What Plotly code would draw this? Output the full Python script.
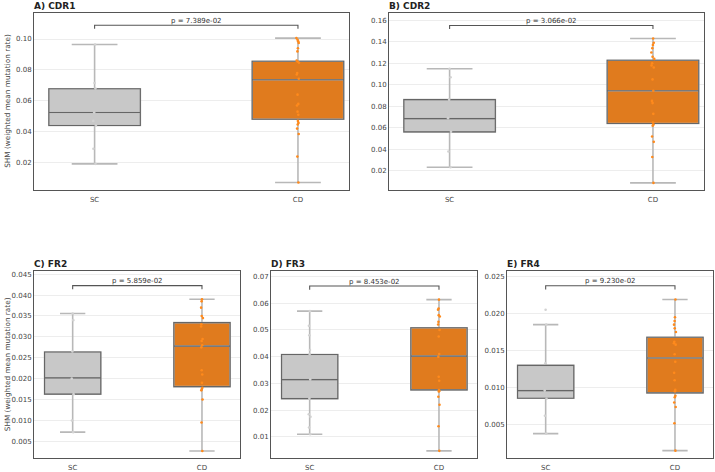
import plotly.graph_objects as go

groups = ["SC", "CD"]
panels = ["A) CDR1", "B) CDR2", "C) FR2", "D) FR3", "E) FR4"]
p_values = ["7.389e-02", "3.066e-02", "5.859e-02", "8.453e-02", "9.230e-02"]
y_label = "SHM (weighted mean mutation rate)"

# box statistics per panel: [SC, CD]
lower_whisker = [[0.0192, 0.0071], [0.0234, 0.0089], [0.0072, 0.0027], [0.0110, 0.0048], [0.0038, 0.0015]]
q1 = [[0.0440, 0.0481], [0.0563, 0.0640], [0.0163, 0.0181], [0.0243, 0.0276], [0.00857, 0.0093]]
median = [[0.0524, 0.0736], [0.0686, 0.0945], [0.0202, 0.0278], [0.0314, 0.0402], [0.0096, 0.0140]]
q3 = [[0.0678, 0.0856], [0.0862, 0.1227], [0.0264, 0.0334], [0.0408, 0.0508], [0.0130, 0.0168]]
upper_whisker = [[0.0965, 0.1006], [0.1148, 0.1430], [0.0356, 0.0390], [0.0570, 0.0613], [0.0185, 0.0219]]

# individual samples per panel
sc_points = [
    [0.0192, 0.0290, 0.0440, 0.0470, 0.0524, 0.0680, 0.0715, 0.0965],
    [0.0234, 0.0380, 0.0563, 0.0690, 0.0862, 0.1070, 0.1148],
    [0.0072, 0.0100, 0.0163, 0.0200, 0.0265, 0.0340, 0.0356],
    [0.0110, 0.0135, 0.0175, 0.0185, 0.0243, 0.0315, 0.0410, 0.0425, 0.0480, 0.0515, 0.0570],
    [0.0038, 0.0062, 0.0085, 0.0096, 0.0133, 0.0185, 0.0205],
]
cd_points = [
    [0.1006, 0.0995, 0.0985, 0.0975, 0.0940, 0.0920, 0.0860, 0.0854, 0.0846, 0.0780, 0.0770,
     0.0743, 0.0640, 0.0580, 0.0570, 0.0530, 0.0510, 0.0470, 0.0457, 0.0447, 0.0420, 0.0385,
     0.0239, 0.0071],
    [0.1430, 0.1390, 0.1370, 0.1340, 0.1300, 0.1260, 0.1240, 0.1200, 0.1180, 0.1160, 0.1050,
     0.0945, 0.0850, 0.0830, 0.0730, 0.0650, 0.0630, 0.0620, 0.0520, 0.0470, 0.0330, 0.0089],
    [0.0390, 0.0385, 0.0370, 0.0350, 0.0345, 0.0330, 0.0325, 0.0295, 0.0290, 0.0280, 0.0275,
     0.0220, 0.0210, 0.0190, 0.0178, 0.0175, 0.0172, 0.0150, 0.0095, 0.0027],
    [0.0613, 0.0580, 0.0575, 0.0555, 0.0550, 0.0530, 0.0520, 0.0500, 0.0475, 0.0410, 0.0400,
     0.0325, 0.0310, 0.0275, 0.0272, 0.0270, 0.0250, 0.0220, 0.0140, 0.0048],
    [0.0219, 0.0195, 0.0190, 0.0185, 0.0180, 0.0175, 0.0162, 0.0160, 0.0158, 0.0145, 0.0135,
     0.0120, 0.0110, 0.0097, 0.0095, 0.0089, 0.0087, 0.0080, 0.0074, 0.0052, 0.0015],
]

y_ranges = [[0.0024, 0.1169], [0.0025, 0.1667], [0.0010, 0.0457], [0.0021, 0.0719], [0.0005, 0.0257]]
y_dticks = [0.02, 0.02, 0.005, 0.01, 0.005]
y_formats = [".2f", ".2f", ".3f", ".2f", ".3f"]

W, H = 715, 472
x_px = [(34, 349), (389, 704), (34, 240), (271, 477), (507, 713)]
y_px = [(12, 190), (12, 190), (272, 460), (272, 460), (272, 460)]
x_ranges = [[-0.298, 1.251], [-0.298, 1.251], [-0.299, 1.294], [-0.299, 1.294], [-0.299, 1.294]]
box_widths = [0.45, 0.45, 0.435, 0.435, 0.435]
whisker_w = [0.5, 0.5, 0.45, 0.45, 0.45]

fills = ["#c8c8c8", "#e07b1e"]
point_colors = ["#d2d2d2", "#ff8a1c"]
edge = "#666666"
whisk = "#b8b8b8"
font = "DejaVu Sans"

fig = go.Figure()
layout = dict(
    width=W, height=H, margin=dict(l=0, r=0, t=0, b=0),
    paper_bgcolor="white", plot_bgcolor="white", showlegend=False,
    boxmode="overlay", font=dict(family=font, size=7, color="#444"),
)
annotations = []

for i in range(5):
    s = "" if i == 0 else str(i + 1)
    xa, ya = "x" + s, "y" + s
    for g in range(2):
        # full box with light whiskers
        fig.add_trace(go.Box(
            x=[groups[g]], q1=[q1[i][g]], median=[median[i][g]], q3=[q3[i][g]],
            lowerfence=[lower_whisker[i][g]], upperfence=[upper_whisker[i][g]],
            fillcolor=fills[g], line=dict(color=whisk, width=1.6),
            width=box_widths[i], whiskerwidth=whisker_w[i], boxpoints=False,
            hoverinfo="skip", xaxis=xa, yaxis=ya,
        ))
        # dark outline of the box + median
        fig.add_trace(go.Box(
            x=[groups[g]], q1=[q1[i][g]], median=[median[i][g]], q3=[q3[i][g]],
            lowerfence=[q1[i][g]], upperfence=[q3[i][g]],
            fillcolor="rgba(0,0,0,0)", line=dict(color=edge, width=1.1),
            width=box_widths[i], whiskerwidth=0, boxpoints=False,
            hoverinfo="skip", xaxis=xa, yaxis=ya,
        ))
    for g, pts in enumerate([sc_points[i], cd_points[i]]):
        fig.add_trace(go.Box(
            x=[groups[g]] * len(pts), y=pts, boxpoints="all", jitter=0.04, pointpos=0,
            fillcolor="rgba(0,0,0,0)", line=dict(color="rgba(0,0,0,0)", width=0),
            marker=dict(size=2.6, color=point_colors[g]),
            width=box_widths[i], whiskerwidth=0, hoverinfo="skip",
            xaxis=xa, yaxis=ya,
        ))
    # significance bracket
    r0, r1 = y_ranges[i]
    h = max(upper_whisker[i]) + 0.073 * (r1 - r0)
    d = 0.02 * (r1 - r0)
    fig.add_trace(go.Scatter(
        x=[groups[0], groups[0], groups[1], groups[1]], y=[h - d, h, h, h - d],
        mode="lines", line=dict(color="#555", width=1.1), hoverinfo="skip",
        xaxis=xa, yaxis=ya,
    ))
    annotations.append(dict(
        x=0.5, y=h, xref=xa, yref=ya, text="p = " + p_values[i], showarrow=False,
        yanchor="bottom", xanchor="center", yshift=-1.5,
        font=dict(family=font, size=7, color="#333"),
    ))

    xd = [x_px[i][0] / W, x_px[i][1] / W]
    yd = [1 - y_px[i][1] / H, 1 - y_px[i][0] / H]
    layout["xaxis" + s] = dict(
        domain=xd, anchor=ya, type="category", categoryorder="array", categoryarray=groups,
        range=x_ranges[i], showgrid=False, showline=True, mirror=True, linecolor="#555",
        linewidth=1, ticks="", ticklabelstandoff=3,
        tickfont=dict(family=font, size=7, color="#444"), zeroline=False, fixedrange=True,
    )
    layout["yaxis" + s] = dict(
        domain=yd, anchor=xa, range=y_ranges[i], dtick=y_dticks[i], tick0=0,
        tickformat=y_formats[i], showgrid=True, gridcolor="#ededed", gridwidth=0.8,
        showline=True, mirror=True, linecolor="#555", linewidth=1, ticks="",
        tickfont=dict(family=font, size=7, color="#444"), zeroline=False, fixedrange=True,
    )
    annotations.append(dict(
        x=xd[0], y=yd[1], xref="paper", yref="paper", text="<b>" + panels[i] + "</b>",
        showarrow=False, xanchor="left", yanchor="bottom", yshift=0, xshift=-2,
        font=dict(family=font, size=9, color="#222"),
    ))
    if i in (0, 2):
        annotations.append(dict(
            x=7.5 / W, y=(yd[0] + yd[1]) / 2, xref="paper", yref="paper", text=y_label,
            showarrow=False, textangle=-90, xanchor="center", yanchor="middle",
            font=dict(family=font, size=7.3, color="#444"),
        ))

layout["annotations"] = annotations
fig.update_layout(**layout)
fig.write_html("out.html")
